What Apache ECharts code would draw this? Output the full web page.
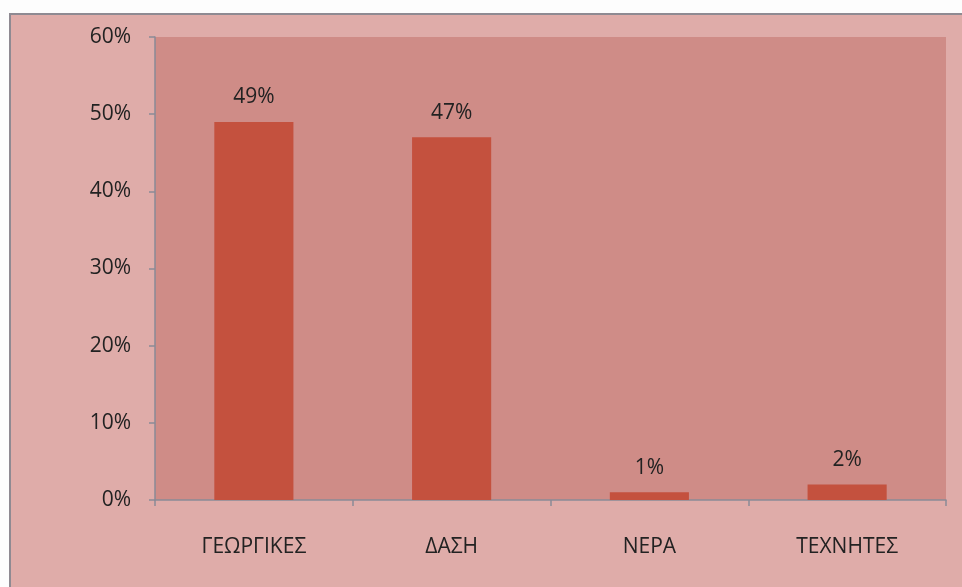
<!DOCTYPE html>
<html>
<head>
<meta charset="utf-8">
<style>
  html, body { margin: 0; padding: 0; background: #fdfdfd; }
  #chart { width: 962px; height: 587px; }
</style>
<script src="https://cdn.jsdelivr.net/npm/echarts@6/dist/echarts.min.js"></script>
</head>
<body>
<div id="chart"></div>
<script>
// Land-use shares by category
const categories = ['ΓΕΩΡΓΙΚΕΣ', 'ΔΑΣΗ', 'ΝΕΡΑ', 'ΤΕΧΝΗΤΕΣ'];
const shares = [0.49, 0.47, 0.01, 0.02];
const yTicks = { min: 0, max: 0.6, step: 0.1 };

const FONT = '"Open Sans", "Noto Sans", sans-serif';
const pct = v => Math.round(v * 100) + '%';

const chart = echarts.init(document.getElementById('chart'), null, { renderer: 'canvas' });
chart.setOption({
  backgroundColor: '#fdfdfd',
  animation: false,
  graphic: [{
    type: 'rect',
    z: -10,
    shape: { x: 10, y: 14, width: 960, height: 580 },
    style: { fill: '#dfaca9', stroke: '#8f8a92', lineWidth: 2 }
  }],
  grid: {
    left: 155, right: 16, top: 37, bottom: 87,
    show: true, backgroundColor: '#cf8c87', borderWidth: 0
  },
  xAxis: {
    type: 'category',
    data: categories,
    axisLine: { lineStyle: { color: '#8a8a96', width: 1.5 } },
    axisTick: { show: true, length: 6, alignWithLabel: false, lineStyle: { color: '#8a8a96', width: 1.5 } },
    axisLabel: { color: '#222', fontSize: 21, fontFamily: FONT, margin: 37 }
  },
  yAxis: {
    type: 'value',
    min: yTicks.min, max: yTicks.max, interval: yTicks.step,
    splitLine: { show: false },
    axisLine: { show: true, lineStyle: { color: '#8a8a96', width: 1.5 } },
    axisTick: { show: true, length: 6, lineStyle: { color: '#8a8a96', width: 1.5 } },
    axisLabel: { color: '#222', fontSize: 21, fontFamily: FONT, margin: 24, formatter: pct }
  },
  series: [{
    type: 'bar',
    data: shares,
    barWidth: '40%',
    itemStyle: { color: '#c4513e' },
    label: {
      show: true, position: 'top', distance: 14,
      color: '#222', fontSize: 21, fontFamily: FONT,
      formatter: p => pct(p.value)
    }
  }]
});
</script>
</body>
</html>
